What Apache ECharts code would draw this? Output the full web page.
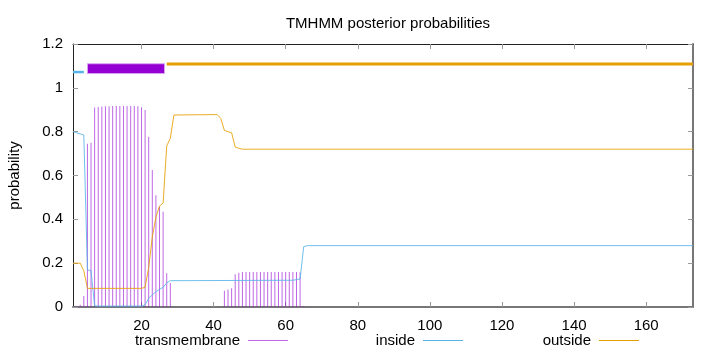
<!DOCTYPE html>
<html>
<head>
<meta charset="utf-8">
<script src="https://cdn.jsdelivr.net/npm/echarts@6/dist/echarts.min.js"></script>
<style>
  html, body { margin: 0; padding: 0; background: #fff; }
  #chart { width: 720px; height: 352px; }
</style>
</head>
<body>
<div id="chart"></div>
<script>
// sequence runs from residue 1 to 173
const xTicks = [20, 40, 60, 80, 100, 120, 140, 160];

// posterior probability of a transmembrane helix, per residue (zeros left out)
const tmProb = [
  [2, 0.005], [3, 0.01], [4, 0.05], [5, 0.745], [6, 0.75], [7, 0.91],
  [8, 0.913], [9, 0.915], [10, 0.916], [11, 0.916], [12, 0.917], [13, 0.917],
  [14, 0.917], [15, 0.917], [16, 0.917], [17, 0.917], [18, 0.917], [19, 0.916],
  [20, 0.911], [21, 0.899], [22, 0.777], [23, 0.625], [24, 0.51], [25, 0.46],
  [26, 0.435], [27, 0.154], [28, 0.11],
  [43, 0.074], [44, 0.08], [45, 0.085], [46, 0.15], [47, 0.156],
  [48, 0.16], [49, 0.16], [50, 0.16], [51, 0.16], [52, 0.16], [53, 0.16],
  [54, 0.16], [55, 0.16], [56, 0.16], [57, 0.16], [58, 0.16], [59, 0.16],
  [60, 0.16], [61, 0.16], [62, 0.16], [63, 0.16], [64, 0.158],
  [65, 0.005], [66, 0.002]
];

// inside probability, read at the residues where the curve changes
const insideProb = [
  [1, 0.80], [2, 0.795], [3, 0.79], [4, 0.785], [5, 0.17], [6, 0.165],
  [7, 0.005], [8, 0.004], [20, 0.004], [21, 0.01], [22, 0.04], [23, 0.055],
  [24, 0.07], [25, 0.08], [26, 0.09], [27, 0.11], [28, 0.12],
  [62, 0.122], [63, 0.125], [64, 0.128], [65, 0.275], [66, 0.28], [173, 0.28]
];

// outside probability
const outsideProb = [
  [1, 0.2], [2, 0.2], [3, 0.2], [4, 0.165], [5, 0.085], [20, 0.085],
  [21, 0.09], [22, 0.18], [23, 0.32], [24, 0.41], [25, 0.46], [26, 0.475],
  [27, 0.735], [28, 0.77], [29, 0.876], [41, 0.878], [42, 0.86], [43, 0.806],
  [44, 0.80], [45, 0.795], [46, 0.73], [47, 0.724], [48, 0.72], [173, 0.72]
];

// predicted topology drawn above the curves: [from, to, yLow, yHigh]
const topoInside = [[1, 4, 1.072, 1.072]];
const topoHelix = [[5, 26.4, 1.065, 1.11]];
const topoOutside = [[27, 173, 1.109, 1.109]];

const FONT = 'Liberation Sans';
const C_TM = '#9400d3';
const C_IN = '#56b4e9';
const C_OUT = '#e69f00';

const chart = echarts.init(document.getElementById('chart'), null, { renderer: 'canvas' });

function topoRender(color, thick) {
  return function (params, api) {
    const p0 = api.coord([api.value(0), api.value(3)]);
    const p1 = api.coord([api.value(1), api.value(2)]);
    if (thick) {
      return {
        type: 'rect',
        shape: { x: p0[0], y: p0[1] - thick / 2, width: p1[0] - p0[0], height: thick },
        style: { fill: color }
      };
    }
    return {
      type: 'rect',
      shape: { x: p0[0], y: p0[1], width: p1[0] - p0[0], height: p1[1] - p0[1] },
      style: { fill: color, stroke: '#d9a6f2', lineWidth: 1 }
    };
  };
}

function legendAt(name, right) {
  return {
    data: [{ name: name, icon: 'rect' }],
    right: right,
    top: 333,
    align: 'right',
    itemWidth: 40,
    itemHeight: 1,
    itemGap: 0,
    padding: 0,
    selectedMode: false,
    textStyle: { fontFamily: FONT, fontSize: 15, color: '#000', padding: [0, 3, 0, 0] }
  };
}

chart.setOption({
  animation: false,
  backgroundColor: '#fff',
  textStyle: { fontFamily: FONT },
  title: {
    text: 'TMHMM posterior probabilities',
    left: 383,
    top: 11,
    textAlign: 'center',
    textStyle: { fontFamily: FONT, fontSize: 15, fontWeight: 'normal', color: '#000' }
  },
  legend: [
    legendAt('transmembrane', 432),
    legendAt('inside', 257),
    legendAt('outside', 81)
  ],
  grid: { left: 73, right: 27, top: 44, bottom: 45, containLabel: false, outerBoundsMode: 'none' },
  xAxis: [{
    type: 'value', min: 1, max: 173, position: 'bottom',
    axisLine: { show: true, onZero: false, lineStyle: { color: '#777', width: 2 } },
    axisTick: { show: true, inside: true, length: 5, customValues: xTicks, lineStyle: { color: '#999' } },
    axisLabel: { customValues: xTicks, color: '#000', fontSize: 15, fontFamily: FONT, margin: 11 },
    splitLine: { show: false }
  }, {
    type: 'value', min: 1, max: 173, position: 'top',
    axisLine: { show: true, onZero: false, lineStyle: { color: '#222', width: 1 } },
    axisTick: { show: true, inside: true, length: 5, customValues: xTicks, lineStyle: { color: '#999' } },
    axisLabel: { show: false },
    splitLine: { show: false }
  }],
  yAxis: [{
    type: 'value', min: 0, max: 1.2, interval: 0.2, position: 'left',
    name: 'probability', nameLocation: 'middle', nameGap: 51, nameRotate: 90,
    nameTextStyle: { fontFamily: FONT, fontSize: 15, color: '#000' },
    axisLine: { show: true, onZero: false, lineStyle: { color: '#222', width: 1 } },
    axisTick: { show: true, inside: true, length: 5, lineStyle: { color: '#999' } },
    axisLabel: { color: '#000', fontSize: 15, fontFamily: FONT, margin: 10 },
    splitLine: { show: false }
  }, {
    type: 'value', min: 0, max: 1.2, interval: 0.2, position: 'right',
    axisLine: { show: true, onZero: false, lineStyle: { color: '#777', width: 2 } },
    axisTick: { show: true, inside: true, length: 5, lineStyle: { color: '#999' } },
    axisLabel: { show: false },
    splitLine: { show: false }
  }],
  series: [
    {
      name: 'transmembrane', type: 'bar', xAxisIndex: 0, yAxisIndex: 0,
      data: tmProb, barWidth: 1, itemStyle: { color: C_TM, opacity: 0.6 }
    },
    {
      name: 'inside', type: 'line', xAxisIndex: 0, yAxisIndex: 0,
      data: insideProb, symbol: 'none', itemStyle: { color: C_IN },
      lineStyle: { color: C_IN, width: 1, opacity: 0.85 }
    },
    {
      name: 'outside', type: 'line', xAxisIndex: 0, yAxisIndex: 0,
      data: outsideProb, symbol: 'none', itemStyle: { color: C_OUT },
      lineStyle: { color: C_OUT, width: 1, opacity: 0.85 }
    },
    {
      type: 'custom', xAxisIndex: 0, yAxisIndex: 0, data: topoInside,
      encode: { x: [0, 1], y: [2, 3] }, renderItem: topoRender(C_IN, 2.5)
    },
    {
      type: 'custom', xAxisIndex: 0, yAxisIndex: 0, data: topoHelix,
      encode: { x: [0, 1], y: [2, 3] }, renderItem: topoRender(C_TM, 0)
    },
    {
      type: 'custom', xAxisIndex: 0, yAxisIndex: 0, data: topoOutside,
      encode: { x: [0, 1], y: [2, 3] }, renderItem: topoRender(C_OUT, 3)
    }
  ]
});
</script>
</body>
</html>
